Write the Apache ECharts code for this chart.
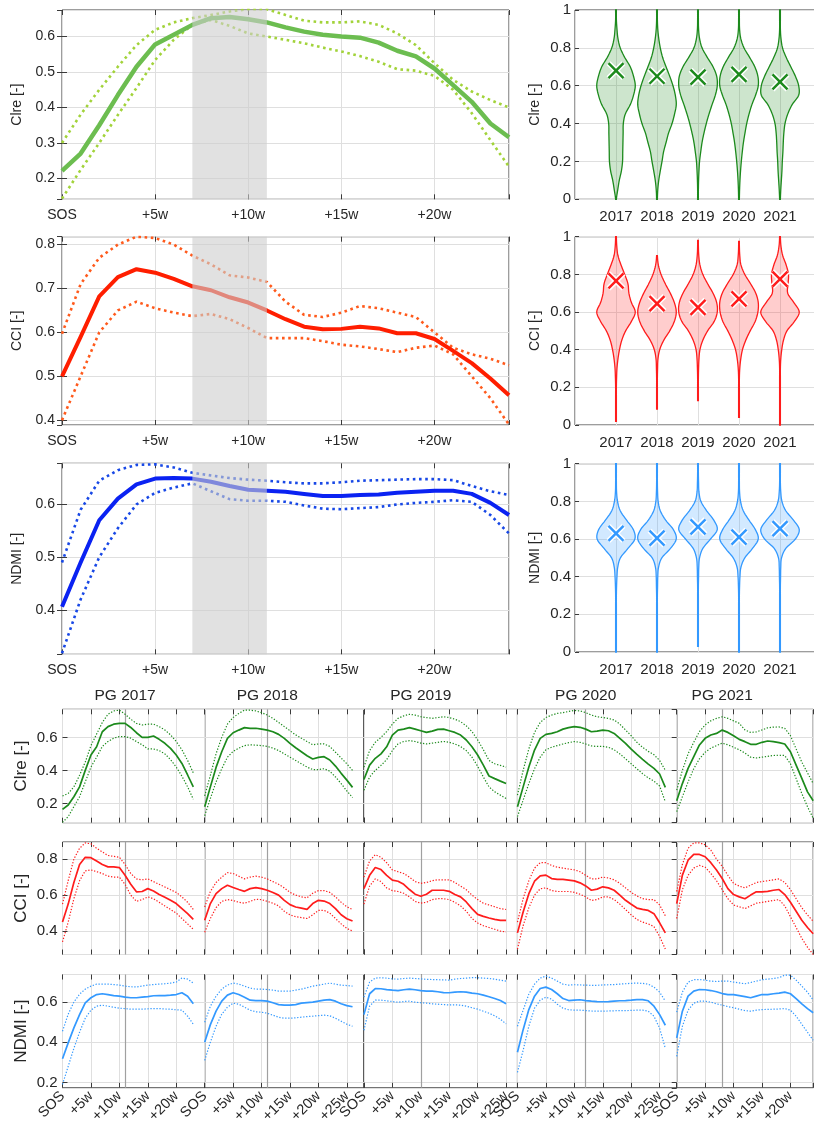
<!DOCTYPE html>
<html><head><meta charset="utf-8">
<script src="https://cdn.jsdelivr.net/npm/echarts@6/dist/echarts.min.js"></script>
<style>html,body{margin:0;padding:0;background:#fff}#c{width:814px;height:1131px}</style>
</head><body><div id="c"></div>
<script>
// ---------------- DATA ----------------
const weekLabels = ['SOS','+5w','+10w','+15w','+20w','+25w'];
const shadeWeeks = [7, 11];

// top-left: weekly curves, SOS .. +24w
const clreMean  = [0.221,0.27,0.35,0.435,0.515,0.578,0.605,0.633,0.652,0.655,0.649,0.64,0.626,0.614,0.605,0.6,0.597,0.583,0.56,0.544,0.51,0.463,0.416,0.355,0.316];
const clreUpper = [0.30,0.38,0.45,0.515,0.576,0.619,0.64,0.652,0.661,0.671,0.677,0.677,0.661,0.645,0.64,0.64,0.643,0.633,0.609,0.576,0.525,0.478,0.445,0.421,0.40];
const clreLower = [0.143,0.224,0.30,0.379,0.455,0.534,0.591,0.633,0.647,0.63,0.609,0.6,0.591,0.581,0.569,0.558,0.545,0.529,0.508,0.504,0.489,0.45,0.384,0.308,0.233];
const cciMean   = [0.50,0.59,0.682,0.726,0.744,0.736,0.722,0.705,0.696,0.68,0.668,0.65,0.63,0.613,0.607,0.608,0.613,0.609,0.598,0.598,0.585,0.558,0.53,0.495,0.457];
const cciUpper  = [0.597,0.71,0.77,0.80,0.818,0.815,0.80,0.775,0.755,0.73,0.725,0.715,0.67,0.64,0.635,0.645,0.66,0.655,0.645,0.635,0.60,0.565,0.55,0.54,0.525];
const cciLower  = [0.40,0.50,0.60,0.65,0.67,0.655,0.645,0.637,0.642,0.63,0.61,0.587,0.587,0.587,0.58,0.572,0.568,0.562,0.555,0.565,0.57,0.55,0.50,0.45,0.39];
const ndmiMean  = [0.406,0.49,0.57,0.611,0.638,0.649,0.65,0.649,0.643,0.635,0.628,0.626,0.624,0.62,0.616,0.616,0.618,0.619,0.622,0.624,0.626,0.626,0.62,0.603,0.58];
const ndmiUpper = [0.49,0.59,0.645,0.665,0.675,0.676,0.67,0.66,0.655,0.65,0.647,0.645,0.642,0.64,0.64,0.642,0.645,0.646,0.647,0.648,0.648,0.646,0.635,0.625,0.618];
const ndmiLower = [0.318,0.42,0.50,0.555,0.60,0.622,0.632,0.64,0.625,0.61,0.607,0.607,0.605,0.598,0.592,0.591,0.593,0.595,0.60,0.603,0.605,0.608,0.605,0.58,0.545];

// violins
const violinYears = ['2017','2018','2019','2020','2021'];
const violinLevels = [0,0.05,0.1,0.15,0.2,0.25,0.3,0.35,0.4,0.45,0.5,0.55,0.6,0.65,0.7,0.75,0.8,0.85,0.9,0.95,1];
const clreDensity = [
  [0.02,0.09,0.17,0.28,0.34,0.35,0.36,0.37,0.38,0.48,0.74,0.91,1.0,0.91,0.74,0.45,0.22,0.1,0.05,0.02,0.02],
  [0.02,0.04,0.09,0.17,0.26,0.34,0.47,0.6,0.78,0.91,1.0,0.95,0.83,0.66,0.47,0.29,0.17,0.09,0.04,0.02,0.02],
  [0.02,0.02,0.03,0.05,0.08,0.14,0.21,0.31,0.43,0.57,0.73,0.9,1.0,0.97,0.78,0.48,0.21,0.08,0.03,0.02,0.02],
  [0.02,0.03,0.05,0.08,0.12,0.17,0.23,0.31,0.4,0.52,0.67,0.86,1.0,0.98,0.82,0.55,0.26,0.09,0.03,0.02,0.02],
  [0.02,0.04,0.07,0.1,0.12,0.15,0.17,0.2,0.26,0.4,0.63,0.97,0.97,0.8,0.56,0.32,0.13,0.05,0.02,0.02,0.02]];
const clreRange = [[0,1],[0,1],[0,1],[0,1],[0,1]];
const clreViolinMean = [0.68,0.65,0.645,0.66,0.62];
const cciDensity = [
  [0.02,0.02,0.02,0.02,0.02,0.03,0.05,0.1,0.18,0.3,0.5,0.8,1.0,0.8,0.67,0.62,0.45,0.26,0.1,0.04,0.02],
  [0.02,0.02,0.02,0.02,0.02,0.02,0.03,0.05,0.14,0.35,0.66,0.9,1.0,0.9,0.69,0.43,0.21,0.07,0.02,0.02,0.02],
  [0.02,0.02,0.02,0.02,0.02,0.02,0.03,0.05,0.1,0.25,0.5,0.84,1.0,0.97,0.78,0.5,0.25,0.1,0.04,0.02,0.02],
  [0.02,0.02,0.02,0.02,0.02,0.02,0.04,0.09,0.18,0.35,0.58,0.84,0.98,1.0,0.87,0.6,0.3,0.1,0.04,0.02,0.02],
  [0.02,0.02,0.02,0.02,0.02,0.02,0.02,0.04,0.09,0.18,0.36,0.75,1.0,0.72,0.4,0.42,0.44,0.32,0.14,0.05,0.02]];
const cciRange = [[0.02,1],[0.085,0.9],[0.13,0.98],[0.04,0.975],[0,1]];
const cciViolinMean = [0.765,0.645,0.625,0.67,0.775];
const ndmiDensity = [
  [0.02,0.02,0.02,0.02,0.02,0.02,0.02,0.03,0.05,0.09,0.23,0.62,0.98,0.9,0.55,0.22,0.08,0.03,0.02,0.02,0.02],
  [0.02,0.02,0.02,0.02,0.02,0.02,0.02,0.03,0.04,0.08,0.25,0.7,1.0,0.85,0.45,0.17,0.06,0.03,0.02,0.02,0.02],
  [0.02,0.02,0.02,0.02,0.02,0.02,0.02,0.02,0.03,0.04,0.08,0.25,0.65,1.0,0.82,0.45,0.15,0.05,0.03,0.02,0.02],
  [0.02,0.02,0.02,0.02,0.02,0.02,0.02,0.03,0.05,0.1,0.3,0.7,1.0,0.85,0.52,0.22,0.08,0.03,0.02,0.02,0.02],
  [0.02,0.02,0.02,0.02,0.02,0.02,0.02,0.02,0.03,0.04,0.08,0.3,0.8,1.0,0.7,0.3,0.1,0.04,0.02,0.02,0.02]];
const ndmiRange = [[0,1],[0,1],[0.03,1],[0,1],[0,1]];
const ndmiViolinMean = [0.63,0.605,0.665,0.61,0.655];

// bottom: per growing period (weekly from SOS)
const pgTitles = ['PG 2017','PG 2018','PG 2019','PG 2020','PG 2021'];
const pgSegWeeks = [25,28,27,28,24];
const pgMarkWeek = [11,11,10,12,8];
const pgClreMean = [
  [0.164,0.19,0.24,0.30,0.40,0.493,0.543,0.634,0.665,0.68,0.685,0.685,0.66,0.628,0.6,0.6,0.608,0.588,0.564,0.533,0.493,0.442,0.372,0.30],
  [0.18,0.30,0.418,0.513,0.594,0.628,0.644,0.659,0.655,0.655,0.65,0.644,0.634,0.618,0.594,0.564,0.537,0.513,0.489,0.469,0.479,0.483,0.463,0.426,0.382,0.341,0.297],
  [0.345,0.432,0.473,0.5,0.543,0.614,0.644,0.65,0.659,0.65,0.64,0.63,0.638,0.648,0.65,0.64,0.63,0.614,0.584,0.543,0.493,0.432,0.366,0.35,0.335,0.321],
  [0.18,0.30,0.42,0.523,0.594,0.618,0.624,0.634,0.65,0.659,0.665,0.661,0.65,0.634,0.638,0.644,0.64,0.624,0.594,0.564,0.529,0.497,0.467,0.438,0.412,0.378,0.297],
  [0.216,0.32,0.412,0.483,0.554,0.594,0.614,0.624,0.644,0.63,0.61,0.588,0.574,0.558,0.558,0.57,0.578,0.574,0.568,0.56,0.513,0.432,0.352,0.27,0.216]];
const pgClreUpper = [
  [0.245,0.26,0.30,0.37,0.45,0.55,0.62,0.69,0.74,0.76,0.765,0.74,0.71,0.685,0.675,0.68,0.68,0.665,0.645,0.615,0.575,0.525,0.46,0.385],
  [0.245,0.37,0.50,0.60,0.68,0.72,0.745,0.765,0.765,0.76,0.75,0.735,0.715,0.69,0.665,0.64,0.615,0.595,0.575,0.555,0.56,0.56,0.545,0.51,0.475,0.44,0.40],
  [0.42,0.52,0.57,0.60,0.635,0.68,0.715,0.73,0.74,0.735,0.725,0.72,0.715,0.72,0.725,0.72,0.71,0.695,0.67,0.635,0.585,0.525,0.46,0.44,0.43,0.42],
  [0.25,0.40,0.53,0.63,0.69,0.72,0.735,0.745,0.75,0.757,0.763,0.76,0.75,0.735,0.725,0.72,0.715,0.705,0.68,0.645,0.61,0.57,0.54,0.515,0.495,0.46,0.40],
  [0.28,0.40,0.50,0.57,0.635,0.675,0.70,0.715,0.725,0.715,0.70,0.685,0.645,0.63,0.633,0.645,0.658,0.662,0.663,0.655,0.61,0.53,0.45,0.385,0.32]];
const pgClreLower = [
  [0.085,0.12,0.18,0.24,0.33,0.42,0.48,0.545,0.575,0.595,0.605,0.605,0.595,0.575,0.555,0.53,0.53,0.52,0.50,0.465,0.42,0.365,0.30,0.225],
  [0.125,0.23,0.33,0.41,0.48,0.515,0.535,0.55,0.555,0.553,0.55,0.545,0.535,0.52,0.50,0.48,0.46,0.44,0.42,0.405,0.405,0.41,0.395,0.36,0.32,0.275,0.235],
  [0.28,0.36,0.40,0.43,0.465,0.52,0.56,0.575,0.58,0.575,0.565,0.56,0.565,0.57,0.575,0.57,0.56,0.545,0.52,0.48,0.425,0.36,0.30,0.27,0.25,0.23],
  [0.12,0.22,0.32,0.41,0.48,0.525,0.54,0.55,0.56,0.568,0.575,0.57,0.56,0.548,0.545,0.545,0.54,0.525,0.5,0.47,0.44,0.41,0.38,0.355,0.335,0.305,0.21],
  [0.15,0.24,0.33,0.41,0.47,0.51,0.535,0.55,0.565,0.555,0.54,0.525,0.505,0.48,0.475,0.48,0.485,0.49,0.492,0.49,0.44,0.35,0.26,0.18,0.11]];
const pgCciMean = [
  [0.45,0.55,0.67,0.77,0.81,0.808,0.789,0.77,0.757,0.757,0.753,0.71,0.66,0.618,0.62,0.636,0.623,0.603,0.588,0.571,0.553,0.525,0.497,0.465],
  [0.46,0.553,0.608,0.636,0.655,0.642,0.631,0.621,0.636,0.642,0.636,0.627,0.614,0.6,0.571,0.547,0.534,0.528,0.521,0.553,0.571,0.567,0.553,0.525,0.491,0.469,0.456],
  [0.636,0.71,0.753,0.742,0.71,0.683,0.677,0.66,0.631,0.605,0.594,0.605,0.627,0.627,0.627,0.621,0.603,0.59,0.562,0.525,0.493,0.482,0.473,0.465,0.46,0.46],
  [0.39,0.506,0.608,0.677,0.707,0.711,0.692,0.687,0.687,0.683,0.679,0.668,0.651,0.627,0.633,0.646,0.64,0.627,0.6,0.571,0.549,0.528,0.521,0.515,0.497,0.446,0.39],
  [0.553,0.711,0.794,0.826,0.826,0.813,0.78,0.739,0.692,0.636,0.603,0.59,0.58,0.6,0.618,0.618,0.621,0.627,0.631,0.603,0.56,0.51,0.46,0.42,0.385]];
const pgCciUpper = [
  [0.55,0.68,0.80,0.86,0.89,0.885,0.86,0.84,0.82,0.815,0.81,0.77,0.72,0.69,0.685,0.69,0.675,0.66,0.645,0.63,0.615,0.59,0.56,0.52],
  [0.534,0.62,0.67,0.70,0.725,0.72,0.705,0.69,0.70,0.705,0.70,0.69,0.675,0.66,0.64,0.615,0.60,0.59,0.585,0.61,0.625,0.625,0.615,0.59,0.56,0.535,0.52],
  [0.70,0.79,0.825,0.81,0.78,0.74,0.73,0.72,0.70,0.675,0.665,0.67,0.68,0.685,0.685,0.685,0.67,0.65,0.63,0.60,0.575,0.555,0.545,0.535,0.525,0.52],
  [0.45,0.58,0.68,0.75,0.78,0.78,0.765,0.755,0.75,0.745,0.74,0.73,0.71,0.69,0.69,0.70,0.695,0.685,0.665,0.64,0.615,0.595,0.58,0.575,0.575,0.545,0.485],
  [0.62,0.77,0.86,0.89,0.89,0.88,0.85,0.80,0.76,0.71,0.665,0.65,0.64,0.655,0.67,0.675,0.68,0.685,0.69,0.67,0.63,0.58,0.53,0.49,0.455]];
const pgCciLower = [
  [0.34,0.45,0.58,0.68,0.735,0.74,0.73,0.72,0.705,0.70,0.70,0.66,0.60,0.565,0.575,0.59,0.58,0.56,0.54,0.52,0.50,0.47,0.44,0.41],
  [0.394,0.47,0.53,0.565,0.575,0.57,0.56,0.555,0.565,0.577,0.575,0.565,0.555,0.54,0.51,0.49,0.48,0.475,0.47,0.49,0.515,0.515,0.50,0.47,0.44,0.415,0.40],
  [0.55,0.65,0.69,0.675,0.64,0.625,0.62,0.61,0.59,0.565,0.555,0.56,0.575,0.58,0.58,0.575,0.56,0.54,0.51,0.47,0.445,0.43,0.42,0.41,0.40,0.395],
  [0.30,0.43,0.53,0.60,0.635,0.64,0.625,0.62,0.62,0.62,0.615,0.605,0.59,0.57,0.575,0.59,0.59,0.575,0.55,0.52,0.49,0.465,0.45,0.44,0.425,0.37,0.30],
  [0.47,0.63,0.71,0.75,0.765,0.755,0.72,0.68,0.63,0.58,0.545,0.535,0.525,0.54,0.555,0.56,0.565,0.57,0.575,0.54,0.48,0.42,0.36,0.31,0.27]];
const pgNdmiMean = [
  [0.318,0.397,0.472,0.538,0.597,0.622,0.638,0.642,0.638,0.633,0.63,0.625,0.622,0.622,0.625,0.628,0.632,0.633,0.633,0.635,0.638,0.647,0.63,0.592],
  [0.40,0.488,0.555,0.605,0.635,0.647,0.638,0.625,0.61,0.608,0.608,0.605,0.597,0.588,0.585,0.585,0.588,0.595,0.598,0.6,0.605,0.61,0.613,0.605,0.592,0.583,0.577],
  [0.538,0.642,0.668,0.667,0.663,0.66,0.658,0.662,0.665,0.662,0.658,0.655,0.655,0.652,0.648,0.647,0.65,0.652,0.65,0.645,0.642,0.635,0.627,0.618,0.608,0.592],
  [0.35,0.463,0.563,0.63,0.668,0.675,0.663,0.642,0.618,0.608,0.61,0.612,0.608,0.605,0.603,0.602,0.603,0.605,0.607,0.608,0.61,0.613,0.613,0.607,0.58,0.538,0.485],
  [0.422,0.555,0.63,0.655,0.663,0.662,0.658,0.652,0.643,0.638,0.638,0.633,0.628,0.622,0.63,0.638,0.638,0.642,0.645,0.65,0.642,0.618,0.592,0.568,0.547]];
const pgNdmiUpper = [
  [0.455,0.54,0.6,0.64,0.665,0.68,0.69,0.69,0.69,0.688,0.685,0.68,0.677,0.676,0.68,0.685,0.688,0.69,0.692,0.695,0.70,0.72,0.715,0.695],
  [0.50,0.58,0.63,0.665,0.685,0.695,0.69,0.68,0.67,0.665,0.665,0.663,0.66,0.655,0.655,0.655,0.66,0.665,0.672,0.68,0.685,0.69,0.695,0.69,0.685,0.683,0.68],
  [0.625,0.70,0.72,0.722,0.72,0.716,0.715,0.718,0.72,0.718,0.716,0.714,0.713,0.712,0.711,0.71,0.715,0.718,0.72,0.722,0.722,0.72,0.718,0.715,0.71,0.705],
  [0.48,0.56,0.64,0.69,0.72,0.73,0.72,0.705,0.69,0.685,0.687,0.686,0.685,0.684,0.684,0.686,0.687,0.688,0.69,0.692,0.694,0.695,0.694,0.69,0.675,0.65,0.605],
  [0.55,0.65,0.70,0.712,0.713,0.71,0.705,0.703,0.705,0.705,0.70,0.696,0.692,0.698,0.705,0.712,0.715,0.718,0.722,0.735,0.735,0.71,0.68,0.65,0.61]];
const pgNdmiLower = [
  [0.19,0.28,0.37,0.45,0.52,0.56,0.58,0.585,0.58,0.575,0.57,0.568,0.565,0.565,0.565,0.567,0.568,0.568,0.566,0.565,0.562,0.56,0.53,0.49],
  [0.31,0.40,0.48,0.54,0.575,0.595,0.59,0.575,0.56,0.552,0.55,0.545,0.535,0.525,0.52,0.52,0.522,0.525,0.528,0.53,0.533,0.535,0.532,0.52,0.505,0.49,0.48],
  [0.46,0.58,0.61,0.61,0.607,0.603,0.6,0.603,0.605,0.6,0.597,0.595,0.592,0.59,0.588,0.586,0.587,0.585,0.58,0.572,0.565,0.555,0.545,0.532,0.515,0.492],
  [0.25,0.36,0.48,0.57,0.61,0.625,0.615,0.59,0.57,0.562,0.56,0.56,0.558,0.556,0.555,0.555,0.556,0.557,0.558,0.558,0.559,0.56,0.56,0.555,0.53,0.47,0.37],
  [0.33,0.48,0.56,0.595,0.605,0.605,0.6,0.592,0.585,0.578,0.572,0.565,0.558,0.555,0.56,0.563,0.564,0.565,0.566,0.568,0.56,0.53,0.49,0.45,0.41]];

// ---------------- STYLE / LAYOUT ----------------
const FONT = "'Liberation Sans', Arial, Helvetica, sans-serif";
const TXT = '#262626', AX = '#3a3a3a', GRIDC = '#dfdfdf';
const grids = [], xAxes = [], yAxes = [], series = [];
function addGrid(g){ grids.push(Object.assign({show:true, borderColor:AX, borderWidth:1, containLabel:false, outerBoundsMode:'none', backgroundColor:'transparent'}, g)); return grids.length - 1; }
const tickIn = (show=true, len=4) => ({show, inside:true, length:len, lineStyle:{color:AX, width:1}});
const toPts = arr => arr.map((v, i) => [i, v]);

// ---- top-left line panels
const linePanels = [
  {name:'Clre [-]', m:clreMean, u:clreUpper, l:clreLower, min:0.141, max:0.675, top:10,    h:189.3, mc:'#6cbd50', dc:'#a2d33a', mw:4.5},
  {name:'CCI [-]',  m:cciMean,  u:cciUpper,  l:cciLower,  min:0.389, max:0.818, top:236.7, h:188.3, mc:'#ff1e00', dc:'#ff5a1c', mw:4},
  {name:'NDMI [-]', m:ndmiMean, u:ndmiUpper, l:ndmiLower, min:0.316, max:0.678, top:463.3, h:191,   mc:'#0a22f2', dc:'#1848e6', mw:4}
];
linePanels.forEach(P => {
  const gi = addGrid({left:62, top:P.top, width:447, height:P.h});
  const xi = xAxes.length;
  xAxes.push({type:'value', gridIndex:gi, min:0, max:24, interval:5, axisLine:{show:false}, axisTick:tickIn(true,5),
    splitLine:{show:true, lineStyle:{color:GRIDC, width:1}},
    axisLabel:{color:TXT, fontSize:14, fontFamily:FONT, margin:9, formatter: v => (v % 5 === 0 ? weekLabels[v/5] : '')}});
  xAxes.push({type:'value', gridIndex:gi, position:'top', min:0, max:24, interval:5, axisLine:{show:false}, axisTick:tickIn(true,5), splitLine:{show:false}, axisLabel:{show:false}});
  const yi = yAxes.length;
  yAxes.push({type:'value', gridIndex:gi, min:P.min, max:P.max, splitNumber:5, name:P.name, nameLocation:'middle', nameGap:35,
    nameTextStyle:{color:TXT, fontSize:14, fontFamily:FONT}, axisLine:{show:false}, axisTick:tickIn(true,5),
    splitLine:{show:true, lineStyle:{color:GRIDC, width:1}},
    axisLabel:{color:TXT, fontSize:14, fontFamily:FONT, margin:7, showMinLabel:false, showMaxLabel:false}});
  yAxes.push({type:'value', gridIndex:gi, position:'right', min:P.min, max:P.max, splitNumber:5, axisLine:{show:false}, axisTick:tickIn(true,5), splitLine:{show:false}, axisLabel:{show:false}});
  const dotted = {color:P.dc, width:2.6, type:[2.6,3.6], cap:'butt'};
  series.push({type:'line', xAxisIndex:xi, yAxisIndex:yi, data:toPts(P.u), symbol:'none', lineStyle:dotted, z:2, silent:true});
  series.push({type:'line', xAxisIndex:xi, yAxisIndex:yi, data:toPts(P.l), symbol:'none', lineStyle:dotted, z:2, silent:true});
  series.push({type:'line', xAxisIndex:xi, yAxisIndex:yi, data:toPts(P.m), symbol:'none', lineStyle:{color:P.mc, width:P.mw, join:'round'}, z:3, silent:true});
  series.push({type:'custom', xAxisIndex:xi, yAxisIndex:yi, z:10, silent:true, data:[[shadeWeeks[0], shadeWeeks[1]]],
    renderItem:(p, api) => {
      const a = api.coord([api.value(0), P.max]);
      const b = api.coord([api.value(1), P.min]);
      return {type:'rect', shape:{x:a[0], y:a[1], width:b[0]-a[0], height:b[1]-a[1]}, style:{fill:'rgba(205,205,205,0.6)'}};
    }});
});

// ---- violins
const violinHalfWidth = 0.47;
const levelStep = violinLevels[1] - violinLevels[0];
function densAt(d, y){
  const t = y / levelStep; let i = Math.floor(t);
  if (i >= d.length - 1) return d[d.length - 1];
  const f = t - i;
  const p0 = d[Math.max(i-1,0)], p1 = d[i], p2 = d[i+1], p3 = d[Math.min(i+2, d.length-1)];
  const v = 0.5*((2*p1) + (-p0+p2)*f + (2*p0-5*p1+4*p2-p3)*f*f + (-p0+3*p1-3*p2+p3)*f*f*f);
  return Math.max(v, 0.015);
}
const violinPanels = [
  {name:'Clre [-]', d:clreDensity, r:clreRange, mean:clreViolinMean, edge:'#1c8a1c', fill:'rgba(28,138,28,0.22)', top:10,    h:189.3},
  {name:'CCI [-]',  d:cciDensity,  r:cciRange,  mean:cciViolinMean,  edge:'#ff1c1c', fill:'rgba(255,28,28,0.22)', top:236.7, h:188.3},
  {name:'NDMI [-]', d:ndmiDensity, r:ndmiRange, mean:ndmiViolinMean, edge:'#3399ff', fill:'rgba(51,153,255,0.22)', top:463.7, h:188.3}
];
violinPanels.forEach(P => {
  const gi = addGrid({left:575, top:P.top, width:246, height:P.h});
  const xi = xAxes.length;
  xAxes.push({type:'value', gridIndex:gi, min:0, max:6, interval:1, axisLine:{show:false}, axisTick:{show:false},
    splitLine:{show:true, lineStyle:{color:GRIDC, width:1}},
    axisLabel:{color:TXT, fontSize:15, fontFamily:FONT, margin:10, formatter: v => violinYears[v-1] || ''}});
  const yi = yAxes.length;
  yAxes.push({type:'value', gridIndex:gi, min:0, max:1, interval:0.2, name:P.name, nameLocation:'middle', nameGap:33,
    nameTextStyle:{color:TXT, fontSize:14, fontFamily:FONT}, axisLine:{show:false}, axisTick:tickIn(true,4),
    splitLine:{show:true, lineStyle:{color:GRIDC, width:1}},
    axisLabel:{color:TXT, fontSize:15, fontFamily:FONT, margin:4}});
  series.push({type:'custom', xAxisIndex:xi, yAxisIndex:yi, z:3, silent:true,
    data: violinYears.map((y, i) => [i+1, P.mean[i], i]),
    renderItem:(p, api) => {
      const i = api.value(2), xc = api.value(0);
      const d = P.d[i], r = P.r[i];
      const ys = [];
      for (let y = r[0]; y < r[1]; y += 0.01) ys.push(y);
      ys.push(r[1]);
      const right = ys.map(y => api.coord([xc + densAt(d, y)*violinHalfWidth, y]));
      const left = ys.map(y => api.coord([xc - densAt(d, y)*violinHalfWidth, y])).reverse();
      return {type:'polygon', shape:{points:right.concat(left)}, style:{fill:P.fill, stroke:P.edge, lineWidth:1.3}};
    }});
  series.push({type:'custom', xAxisIndex:xi, yAxisIndex:yi, z:5, silent:true,
    data: P.mean.map((m, i) => [i+1, m]),
    renderItem:(p, api) => {
      const c = api.coord([api.value(0), api.value(1)]); const s = 7.5;
      const seg = (w, col) => [
        {type:'line', shape:{x1:c[0]-s, y1:c[1]-s, x2:c[0]+s, y2:c[1]+s}, style:{stroke:col, lineWidth:w}},
        {type:'line', shape:{x1:c[0]-s, y1:c[1]+s, x2:c[0]+s, y2:c[1]-s}, style:{stroke:col, lineWidth:w}}];
      return {type:'group', children: seg(5.5, '#ffffff').concat(seg(2.4, P.edge))};
    }});
});

// ---- bottom small multiples
const PXW = 5.687, LEFT0 = 62.5;
const pgRows = [
  {name:'Clre [-]', m:pgClreMean, u:pgClreUpper, l:pgClreLower, min:0.083, max:0.77,  top:709.3, h:113.4, c:'#1c8a1c'},
  {name:'CCI [-]',  m:pgCciMean,  u:pgCciUpper,  l:pgCciLower,  min:0.27,  max:0.895, top:842,   h:112.5, c:'#ff1c1c'},
  {name:'NDMI [-]', m:pgNdmiMean, u:pgNdmiUpper, l:pgNdmiLower, min:0.173, max:0.738, top:974.5, h:113.3, c:'#3399ff'}
];
pgRows.forEach((R, ri) => {
  let cum = 0;
  pgSegWeeks.forEach((len, si) => {
    const left = LEFT0 + cum*PXW; cum += len;
    const gi = addGrid({left:left, top:R.top, width:len*PXW, height:R.h});
    const xi = xAxes.length;
    xAxes.push({type:'value', gridIndex:gi, min:0, max:len, interval:5, axisLine:{show:false}, axisTick:tickIn(true,5),
      splitLine:{show:true, lineStyle:{color:GRIDC, width:1}},
      axisLabel:{show: ri === 2, color:TXT, fontSize:14.5, fontFamily:FONT, rotate:45, margin:6,
        formatter: v => (v % 5 === 0 && v < len ? weekLabels[v/5] : '')}});
    xAxes.push({type:'value', gridIndex:gi, position:'top', min:0, max:len, interval:5, axisLine:{show:false}, axisTick:tickIn(true,5), splitLine:{show:false}, axisLabel:{show:false}});
    const yi = yAxes.length;
    yAxes.push({type:'value', gridIndex:gi, min:R.min, max:R.max, splitNumber:3,
      name: si === 0 ? R.name : '', nameLocation:'middle', nameGap:33,
      nameTextStyle:{color:TXT, fontSize:17, fontFamily:FONT}, axisLine:{show:false}, axisTick:tickIn(si === 0, 5),
      splitLine:{show:true, lineStyle:{color:GRIDC, width:1}},
      axisLabel:{show: si === 0, color:TXT, fontSize:15, fontFamily:FONT, margin:5, showMinLabel:false, showMaxLabel:false}});
    if (si === pgSegWeeks.length - 1) {
      yAxes.push({type:'value', gridIndex:gi, position:'right', min:R.min, max:R.max, splitNumber:3, axisLine:{show:false}, axisTick:tickIn(true,5), splitLine:{show:false}, axisLabel:{show:false}});
    }
    const dotted = {color:R.c, width:1.2, type:[1.3,1.7], cap:'butt'};
    series.push({type:'line', xAxisIndex:xi, yAxisIndex:yi, data:toPts(R.u[si]), symbol:'none', lineStyle:dotted, z:3, silent:true});
    series.push({type:'line', xAxisIndex:xi, yAxisIndex:yi, data:toPts(R.l[si]), symbol:'none', lineStyle:dotted, z:3, silent:true});
    series.push({type:'line', xAxisIndex:xi, yAxisIndex:yi, data:toPts(R.m[si]), symbol:'none', lineStyle:{color:R.c, width:1.7}, z:4, silent:true,
      markLine:{silent:true, symbol:['none','none'], animation:false, z:2,
        lineStyle:{color:'#a0a0a0', width:1.2, type:'solid'},
        label:{show: ri === 0, position:'end', formatter: pgTitles[si], color:TXT, fontSize:15.5, fontFamily:FONT, distance:6},
        emphasis:{disabled:true},
        data:[{xAxis: pgMarkWeek[si]}]}});
  });
});

const chart = echarts.init(document.getElementById('c'), null, {renderer:'canvas'});
chart.setOption({animation:false, backgroundColor:'#ffffff', textStyle:{fontFamily:FONT},
  grid:grids, xAxis:xAxes, yAxis:yAxes, series:series});
</script></body></html>
